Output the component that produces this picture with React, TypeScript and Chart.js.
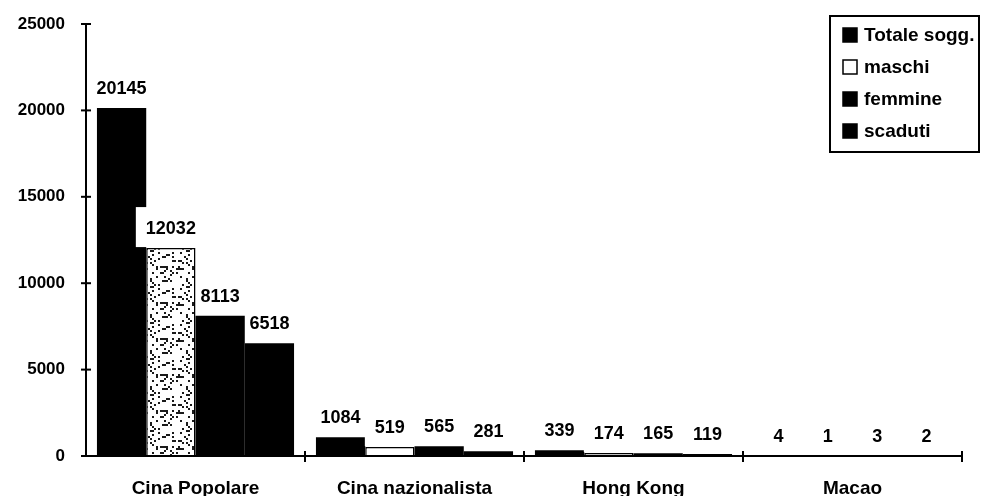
import { useEffect, useRef } from "react";
import { Chart, registerables } from "chart.js";

Chart.register(...registerables);

const categories = ["Cina Popolare", "Cina nazionalista", "Hong Kong", "Macao"];
const seriesNames = ["Totale sogg.", "maschi", "femmine", "scaduti"];
const totale = [20145, 1084, 339, 4];
const maschi = [12032, 519, 174, 1];
const femmine = [8113, 565, 165, 3];
const scaduti = [6518, 281, 119, 2];
const yTickValues = [0, 5000, 10000, 15000, 20000, 25000];

const FONT = "'Liberation Sans', Arial, sans-serif";

// speckled light fill for the large "maschi" bar
function makeSpeckle(): CanvasPattern | string {
  const c = document.createElement("canvas");
  c.width = 36;
  c.height = 36;
  const g = c.getContext("2d");
  if (!g) return "#ffffff";
  g.fillStyle = "#ffffff";
  g.fillRect(0, 0, 36, 36);
  g.fillStyle = "#1a1a1a";
  for (let y = 0; y < 36; y += 2) {
    for (let x = 0; x < 36; x += 2) {
      const h = (((x * 73856093) ^ (y * 19349663) ^ (x * y * 83492791)) >>> 0) % 100;
      if (h < 16) g.fillRect(x, y, 2, 2);
    }
  }
  const p = g.createPattern(c, "repeat");
  return p || "#ffffff";
}

const axesPlugin = {
  id: "axesPlugin",
  afterDatasetsDraw(chart: any) {
    const { ctx, chartArea, scales } = chart;
    const y = scales.y;
    const x = scales.x;
    ctx.save();
    ctx.strokeStyle = "#000";
    ctx.lineWidth = 2;
    // y axis line
    ctx.beginPath();
    ctx.moveTo(chartArea.left, chartArea.top);
    ctx.lineTo(chartArea.left, chartArea.bottom);
    ctx.stroke();
    // x axis line
    ctx.beginPath();
    ctx.moveTo(chartArea.left, chartArea.bottom);
    ctx.lineTo(chartArea.right, chartArea.bottom);
    ctx.stroke();
    // y tick marks crossing the axis
    yTickValues.forEach((v) => {
      const py = y.getPixelForValue(v);
      ctx.beginPath();
      ctx.moveTo(chartArea.left - 5, py);
      ctx.lineTo(chartArea.left + 5, py);
      ctx.stroke();
    });
    // x tick marks at category boundaries
    const step = x.getPixelForValue(1) - x.getPixelForValue(0);
    for (let i = 0; i < categories.length; i++) {
      const px = x.getPixelForValue(i) + step / 2;
      ctx.beginPath();
      ctx.moveTo(px, chartArea.bottom - 5);
      ctx.lineTo(px, chartArea.bottom + 6);
      ctx.stroke();
    }
    ctx.restore();
  },
};

// value labels above bars; the "maschi" series carries a white label box
const labelPlugin = {
  id: "valueLabels",
  afterDatasetsDraw(chart: any) {
    const { ctx } = chart;
    ctx.save();
    ctx.font = `bold 18px ${FONT}`;
    ctx.textAlign = "center";
    ctx.textBaseline = "middle";
    chart.data.datasets.forEach((ds: any, di: number) => {
      const meta = chart.getDatasetMeta(di);
      meta.data.forEach((el: any, i: number) => {
        const text = String(ds.data[i]);
        const cy = el.y - 19;
        const w = ctx.measureText(text).width;
        if (ds.labelBox) {
          ctx.fillStyle = "#ffffff";
          ctx.fillRect(el.x - w / 2 - 10, cy - 22, w + 13, el.y - (cy - 22) - 1);
        }
        ctx.fillStyle = "#000";
        ctx.fillText(text, el.x, cy);
      });
    });
    ctx.restore();
  },
};

const legendPlugin = {
  id: "boxLegend",
  afterDraw(chart: any) {
    const { ctx } = chart;
    const left = 830;
    const top = 16;
    const right = 979;
    const bottom = 152;
    ctx.save();
    ctx.fillStyle = "#fff";
    ctx.fillRect(left, top, right - left, bottom - top);
    ctx.strokeStyle = "#000";
    ctx.lineWidth = 2;
    ctx.strokeRect(left, top, right - left, bottom - top);
    ctx.font = `bold 19px ${FONT}`;
    ctx.textBaseline = "middle";
    ctx.textAlign = "left";
    seriesNames.forEach((name, i) => {
      const cy = 35 + i * 32;
      const white = i === 1;
      ctx.fillStyle = white ? "#fff" : "#000";
      ctx.fillRect(843, cy - 7, 14, 14);
      ctx.lineWidth = 1.5;
      ctx.strokeStyle = "#000";
      ctx.strokeRect(843, cy - 7, 14, 14);
      ctx.fillStyle = "#000";
      ctx.fillText(name, 864, cy + 1);
    });
    ctx.restore();
  },
};

export default function App() {
  const ref = useRef<HTMLCanvasElement | null>(null);

  useEffect(() => {
    if (!ref.current) return;
    const speckle = makeSpeckle();
    const chart = new Chart(ref.current, {
      type: "bar",
      data: {
        labels: categories,
        datasets: [
          { label: seriesNames[0], data: totale, backgroundColor: "#000", borderWidth: 0 },
          {
            label: seriesNames[1],
            data: maschi,
            backgroundColor: [speckle, "#fff", "#fff", "#fff"],
            borderColor: "#000",
            borderWidth: 1.5,
            labelBox: true,
          } as any,
          { label: seriesNames[2], data: femmine, backgroundColor: "#000", borderWidth: 0 },
          { label: seriesNames[3], data: scaduti, backgroundColor: "#000", borderWidth: 0 },
        ],
      },
      options: {
        responsive: false,
        animation: false,
        layout: { padding: { left: 0, top: 24, right: 19, bottom: 0 } },
        datasets: { bar: { categoryPercentage: 0.9, barPercentage: 1.0 } },
        plugins: {
          legend: { display: false },
          tooltip: { enabled: false },
        },
        scales: {
          x: {
            grid: { display: false },
            border: { display: false },
            ticks: {
              color: "#000",
              font: { family: FONT, size: 19, weight: "bold" },
              padding: 13,
              maxRotation: 0,
            },
            afterFit: (s: any) => {
              s.height = 40;
            },
          },
          y: {
            min: 0,
            max: 25000,
            grid: { display: false },
            border: { display: false },
            ticks: {
              stepSize: 5000,
              color: "#000",
              font: { family: FONT, size: 17, weight: "bold" },
              padding: 13,
              callback: (v: any) => String(v),
            },
            afterFit: (s: any) => {
              s.width = 86;
            },
          },
        },
      },
      plugins: [labelPlugin, axesPlugin, legendPlugin],
    });
    return () => chart.destroy();
  }, []);

  return (
    <div style={{ position: "absolute", left: 0, top: 0, width: 981, height: 496, background: "#fff" }}>
      <canvas ref={ref} width={981} height={496} />
    </div>
  );
}
